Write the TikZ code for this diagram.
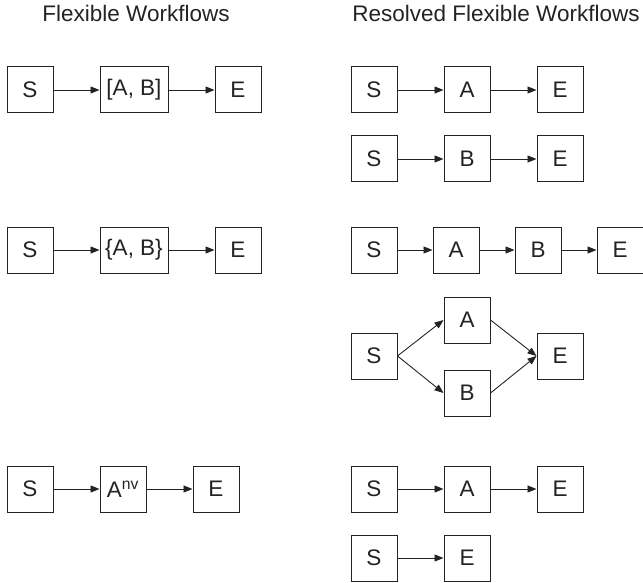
\documentclass[tikz,border=0pt]{standalone}
\usepackage{fontspec}
\setmainfont{Liberation Sans}
\usetikzlibrary{arrows.meta, positioning}
\definecolor{boxline}{RGB}{35,35,35}

\begin{document}
\begin{tikzpicture}[
      x=1pt, y=1pt,
      node distance=46pt,
      box/.style={draw=boxline, line width=1pt, minimum size=46pt, inner sep=2pt,
                  text=boxline, font=\fontsize{22.5}{27}\selectfont},
      wide/.style={box, minimum width=68pt},
      title/.style={text=boxline, font=\fontsize{22.5}{27}\selectfont},
      arr/.style={-{Triangle[length=9pt, width=7pt]}, line width=0.9pt, color=boxline}
  ]
    \useasboundingbox (0,0) rectangle (643,-583);

    \node[title] (tleft)  at (136,-13) {Flexible Workflows};
    \node[title] (tright) at (496,-13) {Resolved Flexible Workflows};

    % choice [A, B]
    \node[box]               (s1)  at (30,-90) {S};
    \node[wide, right=of s1] (ab1) {[A, B]};
    \node[box, right=of ab1] (e1)  {E};
    \draw[arr] (s1)  -- (ab1);
    \draw[arr] (ab1) -- (e1);

    \node[box]               (s2)  at (374,-90) {S};
    \node[box, right=of s2]  (a2)  {A};
    \node[box, right=of a2]  (e2)  {E};
    \draw[arr] (s2) -- (a2);
    \draw[arr] (a2) -- (e2);

    \node[box]               (s3)  at (374,-159) {S};
    \node[box, right=of s3]  (b3)  {B};
    \node[box, right=of b3]  (e3)  {E};
    \draw[arr] (s3) -- (b3);
    \draw[arr] (b3) -- (e3);

    % set {A, B}
    \node[box]               (s4)  at (30,-250) {S};
    \node[wide, right=of s4] (ab4) {\{A, B\}};
    \node[box, right=of ab4] (e4)  {E};
    \draw[arr] (s4)  -- (ab4);
    \draw[arr] (ab4) -- (e4);

    \node[box]                   (s5)  at (374,-250) {S};
    \node[box, right=35pt of s5] (a5)  {A};
    \node[box, right=35pt of a5] (b5)  {B};
    \node[box, right=35pt of b5] (e5)  {E};
    \draw[arr] (s5) -- (a5);
    \draw[arr] (a5) -- (b5);
    \draw[arr] (b5) -- (e5);

    \node[box]                          (s6) at (374,-356) {S};
    \node[box, right=of s6, yshift=36pt] (a6) {A};
    \node[box, right=of s6, yshift=-37pt] (b6) {B};
    \node[box, right=of a6, yshift=-36pt] (e6) {E};
    \draw[arr] (s6.east) -- (a6.west);
    \draw[arr] (s6.east) -- (b6.west);
    \draw[arr] (a6.east) -- (e6.west);
    \draw[arr] (b6.east) -- (e6.west);

    % optional A^nv
    \node[box]               (s7)  at (30,-489) {S};
    \node[box, right=of s7]  (a7)  {A\textsuperscript{nv}};
    \node[box, right=of a7]  (e7)  {E};
    \draw[arr] (s7) -- (a7);
    \draw[arr] (a7) -- (e7);

    \node[box]               (s8)  at (374,-489) {S};
    \node[box, right=of s8]  (a8)  {A};
    \node[box, right=of a8]  (e8)  {E};
    \draw[arr] (s8) -- (a8);
    \draw[arr] (a8) -- (e8);

    \node[box]               (s9)  at (374,-558) {S};
    \node[box, right=of s9]  (e9)  {E};
    \draw[arr] (s9) -- (e9);
  \end{tikzpicture}
\end{document}
